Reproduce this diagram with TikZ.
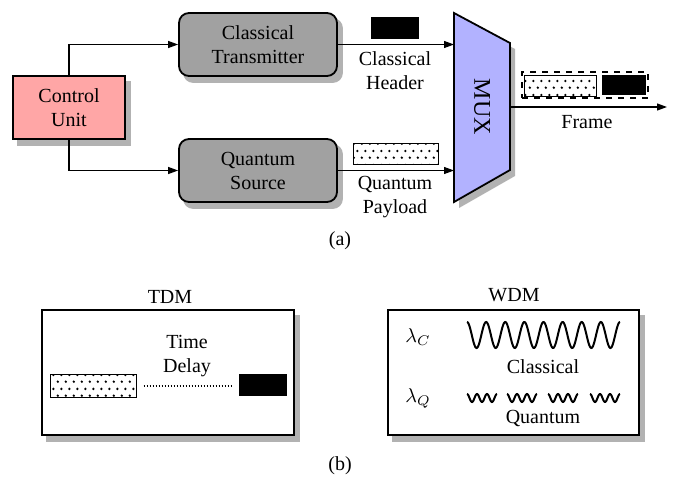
\documentclass[tikz,border=0pt]{standalone}
\usepackage{fontspec}
\setmainfont{Liberation Serif}
\usetikzlibrary{arrows.meta,patterns,backgrounds}
\pgfdeclarepatternformonly{mydots}{\pgfpointorigin}{\pgfpoint{4pt}{7pt}}{\pgfpoint{4pt}{7pt}}{\pgfpathcircle{\pgfpoint{1pt}{1.2pt}}{0.7pt}\pgfpathcircle{\pgfpoint{3pt}{4.7pt}}{0.7pt}\pgfusepath{fill}}
\begin{document}
\begin{tikzpicture}[x=0.5pt,y=-0.5pt, font=\fontsize{10}{12}\selectfont,
 shd/.style={fill=black!30},
 cu/.style={draw, line width=0.9pt, fill=red!35, minimum width=56pt, minimum height=31.5pt, align=center, inner sep=0},
 proc/.style={draw, line width=0.9pt, fill=black!37, rounded corners=5pt, minimum width=79pt, minimum height=31.5pt, align=center, inner sep=0},
 arr/.style={line width=0.6pt, -{Triangle[length=5pt,width=3.5pt]}},
 hdr/.style={fill=black, inner sep=0},
 pay/.style={draw, line width=0.5pt, pattern=mydots, preaction={fill=white}, inner sep=0},
 panel/.style={draw, line width=0.8pt, fill=white, inner sep=0, minimum width=126pt, minimum height=62.5pt},
 lbl/.style={align=center, inner sep=0},
 wave/.style={line width=1pt, smooth}
]
\useasboundingbox (0,0) rectangle (681,482);
% (a)
\node[cu] (cu) at (69,107.5) {Control\\Unit};
\node[proc] (ct) at (258,44.5) {Classical\\Transmitter};
\node[proc] (qs) at (258,170.5) {Quantum\\Source};
\fill[shd] (459,19) -- (515,49) -- (515,176) -- (459,208) -- cycle;
\draw[line width=0.9pt, fill=blue!30] (454,13) -- (510,43) -- (510,170) -- (454,202) -- cycle;
\node[rotate=-90, font=\fontsize{12}{14}\selectfont] (mux) at (482,107) {MUX};
\coordinate (muxin1) at (454,44.5);
\coordinate (muxin2) at (454,170.5);
\coordinate (muxout) at (510,107);
\coordinate (frameend) at (667,107);
\draw[arr] (cu.north) |- (ct.west);
\draw[arr] (cu.south) |- (qs.west);
\draw[arr] (ct.east) -- (muxin1);
\draw[arr] (qs.east) -- (muxin2);
\draw[arr] (muxout) -- (frameend);
\node[hdr, minimum width=24pt, minimum height=11pt] (h1) at (395,28) {};
\node[pay, minimum width=42.5pt, minimum height=10.5pt] (p1) at (395.5,153.5) {};
\node[lbl] (chl) at (395,71) {Classical\\Header};
\node[lbl] (qpl) at (395,197) {Quantum\\Payload};
\node[draw, dashed, line width=0.9pt, minimum width=63pt, minimum height=13pt, inner sep=0] (fr) at (585,85) {};
\node[pay, minimum width=36pt, minimum height=10.5pt] (fp) at (560,85.5) {};
\node[hdr, minimum width=22pt, minimum height=10pt] (fh) at (624,85) {};
\node[lbl] (frl) at (587,122) {Frame};
\node[lbl] (capa) at (340,241) {(a)};
% (b) TDM
\node[lbl] (tdmt) at (170,297) {TDM};
\node[panel] (tdm) at (168,372.5) {};
\node[pay, minimum width=43pt, minimum height=11.5pt] (tp) at (93,385.5) {};
\node[hdr, minimum width=24pt, minimum height=11pt] (th) at (263,385) {};
\draw[line width=0.6pt, dash pattern=on 0.5pt off 1pt] (tp.east)+(7,0.5) -- ([xshift=-4pt]th.west |- 0,386);
\node[lbl] (tdl) at (187,356) {Time\\Delay};
% WDM
\node[lbl] (wdmt) at (514,295) {WDM};
\node[panel, minimum width=125.5pt] (wdm) at (513.5,372.5) {};
\node[lbl] (lc) at (418,337) {$\lambda_C$};
\node[lbl] (lq) at (418,398) {$\lambda_Q$};
\draw[wave, samples=240, domain=0:153] plot ({467+\x},{335-13*cos(\x/153*8*360)});
\foreach \s in {467,507,548,590}{
  \draw[wave, samples=60, domain=0:30] plot ({\s+\x},{398-4*cos(\x/30*3*360)});
}
\node[lbl] (cll) at (543,367) {Classical};
\node[lbl] (qul) at (543,418) {Quantum};
\node[lbl] (capb) at (340,466) {(b)};
% shadows
\begin{scope}[on background layer]
\foreach \n in {cu,tdm,wdm}{
  \fill[shd] ([shift={(5,6)}]\n.north west) rectangle ([shift={(5,6)}]\n.south east);
}
\foreach \n in {ct,qs}{
  \fill[shd, rounded corners=5pt] ([shift={(5,6)}]\n.north west) rectangle ([shift={(5,6)}]\n.south east);
}
\end{scope}
\end{tikzpicture}
\end{document}
